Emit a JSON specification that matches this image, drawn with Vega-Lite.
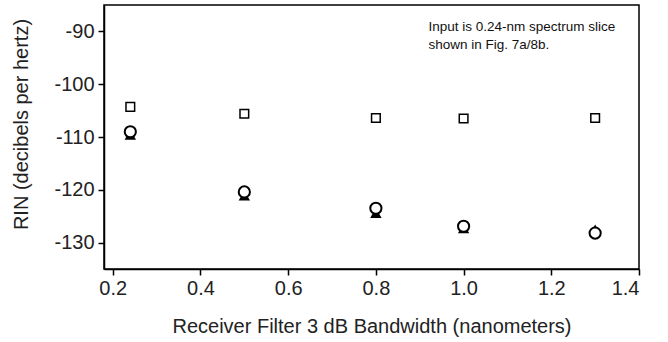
{
  "$schema": "https://vega.github.io/schema/vega-lite/v6.json",
  "autosize": {"type": "none"},
  "padding": {"left": 104, "top": 5, "right": 29, "bottom": 73},
  "width": 535,
  "height": 264,
  "background": "white",
  "config": {
    "font": "Liberation Sans",
    "view": {"stroke": "black", "strokeWidth": 1.5},
    "axis": {
      "grid": false,
      "domainColor": "black",
      "domainWidth": 1.5,
      "tickColor": "black",
      "tickWidth": 1.5,
      "tickSize": 6,
      "labelColor": "#222",
      "labelFontSize": 20,
      "labelFont": "Liberation Sans",
      "titleFont": "Liberation Sans",
      "titleFontSize": 20,
      "titleFontWeight": "normal",
      "titleColor": "#222"
    }
  },
  "data": {"values": [
    {"bw": 0.24, "rin": -104.3, "series": "square"},
    {"bw": 0.5, "rin": -105.6, "series": "square"},
    {"bw": 0.8, "rin": -106.4, "series": "square"},
    {"bw": 1.0, "rin": -106.5, "series": "square"},
    {"bw": 1.3, "rin": -106.4, "series": "square"},
    {"bw": 0.24, "rin": -109.0, "series": "circle"},
    {"bw": 0.5, "rin": -120.4, "series": "circle"},
    {"bw": 0.8, "rin": -123.5, "series": "circle"},
    {"bw": 1.0, "rin": -126.9, "series": "circle"},
    {"bw": 1.3, "rin": -128.2, "series": "circle"},
    {"bw": 0.24, "rin": -109.6, "series": "triangle"},
    {"bw": 0.5, "rin": -121.1, "series": "triangle"},
    {"bw": 0.8, "rin": -124.4, "series": "triangle"},
    {"bw": 1.0, "rin": -127.3, "series": "triangle"},
    {"bw": 1.3, "rin": -127.5, "series": "triangle"}
  ]},
  "encoding": {
    "x": {
      "field": "bw", "type": "quantitative",
      "scale": {"domain": [0.18, 1.4], "nice": false, "zero": false},
      "axis": {"values": [0.2, 0.4, 0.6, 0.8, 1.0, 1.2, 1.4], "format": ".1f", "labelPadding": 3, "titlePadding": 18, "title": "Receiver Filter 3 dB Bandwidth (nanometers)"}
    },
    "y": {
      "field": "rin", "type": "quantitative",
      "scale": {"domain": [-135, -85], "nice": false, "zero": false},
      "axis": {"values": [-130, -120, -110, -100, -90], "labelExpr": "replace(datum.label, '−', '-')", "labelPadding": 4, "titlePadding": 22, "titleY": 119, "title": "RIN (decibels per hertz)"}
    }
  },
  "layer": [
    {
      "transform": [{"filter": "datum.series === 'triangle'"}],
      "mark": {"type": "point", "shape": "triangle-up", "filled": true, "color": "black", "size": 130, "opacity": 1}
    },
    {
      "transform": [{"filter": "datum.series === 'circle'"}],
      "mark": {"type": "point", "shape": "circle", "filled": false, "fill": "white", "fillOpacity": 1, "stroke": "black", "strokeWidth": 2, "size": 125, "opacity": 1}
    },
    {
      "transform": [{"filter": "datum.series === 'square'"}],
      "mark": {"type": "point", "shape": "square", "filled": false, "stroke": "black", "strokeWidth": 1.5, "size": 75, "opacity": 1}
    },
    {
      "transform": [{"filter": "datum.series === 'square' && datum.bw === 0.24"}],
      "mark": {"type": "text", "align": "left", "baseline": "top", "fontSize": 13.5, "lineHeight": 18, "color": "#111", "font": "Liberation Sans"},
      "encoding": {
        "x": {"datum": 0.92},
        "y": {"datum": -87.9},
        "text": {"value": ["Input is 0.24-nm spectrum slice", "shown in Fig. 7a/8b."]}
      }
    }
  ]
}
